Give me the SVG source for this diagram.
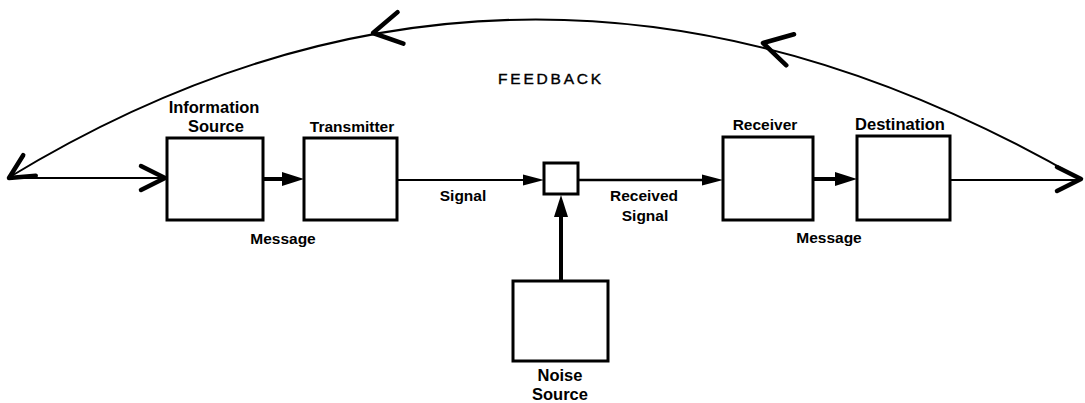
<svg xmlns="http://www.w3.org/2000/svg" width="1085" height="403" viewBox="0 0 1085 403">
<style>
.box{fill:#fff;stroke:#000;stroke-width:3}
.thin{fill:none;stroke:#000;stroke-width:2}
.thick{fill:none;stroke:#000;stroke-width:4}
.lbl{font-family:"Liberation Sans",Arial,sans-serif;font-weight:bold;font-size:15.5px;fill:#000;text-anchor:middle}
.big{font-size:16.5px}
.fb{font-family:"Liberation Sans",Arial,sans-serif;font-size:15.5px;letter-spacing:2.8px;fill:#000;stroke:#000;stroke-width:0.4}
</style>
<defs>
<path id="tri-l" d="M0,0 L-22,-7 L-22,7 Z" fill="#000"/>
<path id="tri-s" d="M0,0 L-21,-5.5 L-21,5.5 Z" fill="#000"/>
<path id="chev" d="M-24,-12 L0,0 L-24,12" fill="none" stroke="#000" stroke-width="4.5" stroke-linecap="round" stroke-linejoin="round"/>
<path id="chev-big" d="M-28,-16 L0,0 L-28,16" fill="none" stroke="#000" stroke-width="4.5" stroke-linecap="round" stroke-linejoin="round"/>
</defs>
<rect width="1085" height="403" fill="#fff"/>

<g id="connectors">
<path class="thin" d="M8,178 Q530,-140 1082,180"/>
<use href="#chev-big" transform="translate(373,33) rotate(169.4)"/>
<use href="#chev-big" transform="translate(763,43) rotate(194)"/>
<use href="#chev" transform="translate(9,178) rotate(148.5)"/>
<path class="thin" d="M8,178 L165,178"/>
<use href="#chev" transform="translate(165,178)"/>
<path class="thick" d="M263,179 L296,179"/>
<use href="#tri-l" transform="translate(304,179)"/>
<path class="thin" d="M397,180 L537,180"/>
<use href="#tri-s" transform="translate(544,180)"/>
<path class="thin" d="M578,180 L716,180" style="stroke-width:2.5"/>
<use href="#tri-s" transform="translate(723,180)"/>
<path class="thick" d="M813,179 L849,179"/>
<use href="#tri-l" transform="translate(857,179)"/>
<path class="thin" d="M950,180 L1080,180"/>
<use href="#chev" transform="translate(1081,179)"/>
<path class="thick" d="M561,281 L561,202"/>
<use href="#tri-l" transform="translate(561,195) rotate(-90)"/>
</g>

<g id="info-source">
<rect class="box" x="167" y="138" width="96" height="82"/>
<text class="lbl big" x="214" y="113">Information</text>
<text class="lbl big" x="216" y="132">Source</text>
</g>
<g id="transmitter">
<rect class="box" x="304" y="138" width="93" height="82"/>
<text class="lbl" x="352" y="132">Transmitter</text>
</g>
<g id="junction">
<rect class="box" x="544" y="163" width="34" height="31"/>
</g>
<g id="noise-source">
<rect class="box" x="513" y="281" width="95" height="80"/>
<text class="lbl big" x="560" y="381">Noise</text>
<text class="lbl big" x="560" y="400">Source</text>
</g>
<g id="receiver">
<rect class="box" x="723" y="137" width="90" height="83"/>
<text class="lbl" x="765" y="130">Receiver</text>
</g>
<g id="destination">
<rect class="box" x="857" y="136" width="93" height="84"/>
<text class="lbl big" x="900" y="130">Destination</text>
</g>

<g id="labels">
<text class="fb" x="498" y="84">FEEDBACK</text>
<text class="lbl" x="463" y="201">Signal</text>
<text class="lbl" x="283" y="244">Message</text>
<text class="lbl" x="644" y="201">Received</text>
<text class="lbl" x="645" y="221">Signal</text>
<text class="lbl" x="829" y="243">Message</text>
</g>
</svg>
